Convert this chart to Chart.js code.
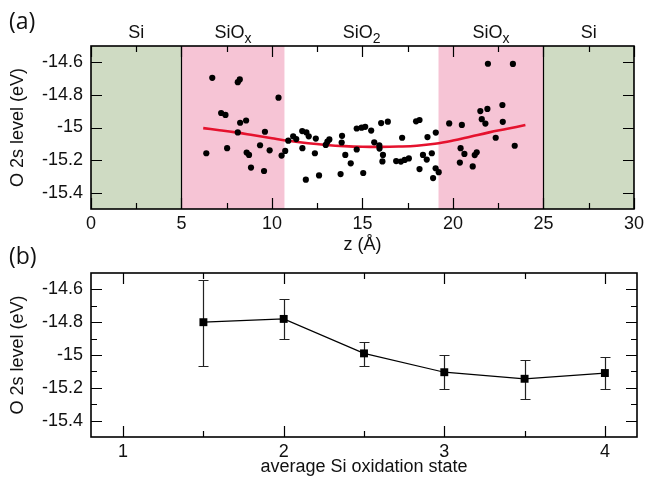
<!DOCTYPE html>
<html lang="en">
<head>
<meta charset="UTF-8">
<title>O 2s level across the Si/SiO2/Si stack</title>
<script src="https://cdn.jsdelivr.net/npm/chart.js"></script>
<style>
  body { margin: 0; background: #fff; }
  #wrap { position: relative; width: 648px; height: 481px; overflow: hidden; }
  #wrap canvas { position: absolute; left: 0; }
  #chartA { top: 0; }
  #chartB { top: 240px; }
  .tag { position: absolute; left: 9px; font: 23px "Open Sans", sans-serif; color: #111; }
</style>
</head>
<body>
<div id="wrap">
  <canvas id="chartA" width="648" height="262"></canvas>
  <canvas id="chartB" width="648" height="241"></canvas>
  <div class="tag" style="top:4px">(a)</div>
  <div class="tag" style="top:239px">(b)</div>
</div>

<script>
// ---- panel (a): O 2s level of every O atom vs. position z ----
const zPos = [
  6.70, 8.11, 8.22, 10.36, 7.19, 7.43, 8.24, 8.57, 8.11, 9.61, 10.90, 6.37, 7.52, 8.60, 8.73,
  9.34, 9.87, 10.53, 10.73, 8.84, 9.56,
  11.17, 11.34, 11.67, 11.90, 12.03, 11.68, 12.42, 12.37, 12.97, 13.06, 13.17, 13.87, 13.85,
  14.05, 14.35, 13.79, 11.87, 12.60, 14.68, 14.95, 15.15, 15.48, 14.68, 15.04, 15.65, 15.93,
  15.94, 16.13, 16.10, 16.03, 16.40, 17.19, 16.86, 17.12, 17.33, 17.56, 17.96, 18.15, 18.34,
  18.55, 18.59, 19.05, 18.83, 18.15, 19.04, 19.21, 18.90,
  19.79, 20.49, 20.42, 20.63, 20.38, 21.09, 21.20, 21.31, 21.51, 21.90, 21.59, 21.79, 22.73,
  22.75, 22.36, 23.41, 21.93, 23.31
];
const o2sLevel = [
  -14.695, -14.722, -14.705, -14.817, -14.911, -14.923, -14.971, -14.957, -15.030, -15.026,
  -15.081, -15.158, -15.127, -15.154, -15.168, -15.109, -15.140, -15.172, -15.144, -15.246,
  -15.267,
  -15.054, -15.071, -15.022, -15.030, -15.054, -15.127, -15.068, -15.158, -15.107, -15.087,
  -15.073, -15.051, -15.092, -15.168, -15.220, -15.286, -15.320, -15.294, -15.006, -15.001,
  -14.996, -15.019, -15.135, -15.279, -15.091, -15.110, -15.129, -15.168, -15.208, -14.973,
  -14.964, -15.063, -15.206, -15.209, -15.199, -15.190, -14.962, -14.954, -15.168, -15.197,
  -15.059, -15.031, -15.158, -15.255, -15.250, -15.274, -15.310,
  -14.975, -14.984, -15.127, -15.162, -15.215, -15.239, -15.169, -15.152, -14.899, -14.886,
  -14.949, -14.976, -14.862, -14.965, -15.063, -15.112, -14.609, -14.610
];
// smooth fit through the cloud
const fitZ = [6.2, 7, 8, 9, 10, 11, 12, 13, 14, 15, 16, 17, 18, 19, 20, 21, 22, 23, 24];
const fitLevel = [-15.004, -15.015, -15.030, -15.048, -15.066, -15.083, -15.097, -15.107,
  -15.114, -15.118, -15.119, -15.117, -15.112, -15.100, -15.080, -15.055, -15.030, -15.008, -14.985];

// layers of the stack
const regionEdges = [0, 5, 10.7, 19.2, 25, 30];
const regionNames = ['Si', 'SiO', 'SiO', 'SiO', 'Si'];
const regionSubs = ['', 'x', '2', 'x', ''];
const interfaceZ = [5, 25];

const zTicks = [0, 5, 10, 15, 20, 25, 30];
const zMinor = [2.5, 7.5, 12.5, 17.5, 22.5, 27.5];
const levelTicks = [-15.4, -15.2, -15, -14.8, -14.6];
const levelMinor = [-15.3, -15.1, -14.9, -14.7];

// ---- panel (b): averages per Si oxidation state ----
const oxState = [1.5, 2, 2.5, 3, 3.5, 4];
const o2sMean = [-14.80, -14.78, -14.99, -15.105, -15.145, -15.11];
const o2sTop = [-14.545, -14.66, -14.92, -15.00, -15.03, -15.015];
const o2sBottom = [-15.07, -14.90, -15.065, -15.21, -15.27, -15.205];
const oxTicks = [1, 2, 3, 4];
const oxMinor = [1.5, 2.5, 3.5];

const regionColors = ['#cfdbc3', '#f6c4d5', '#ffffff', '#f6c4d5', '#cfdbc3'];
const FONT = '"Liberation Sans", Arial, sans-serif';
const INK = '#111';

const fmt = v => String(+(+v).toFixed(1));

// inward tick marks on all four sides plus the box
const frameTicks = {
  id: 'frameTicks',
  afterDatasetsDraw(chart, args, o) {
    const {ctx, chartArea: a, scales: {x, y}} = chart;
    ctx.save();
    ctx.strokeStyle = '#000';
    ctx.lineWidth = 1.2;
    const vTicks = (vals, len) => vals.forEach(v => {
      const px = Math.round(x.getPixelForValue(v)) + 0.5;
      ctx.beginPath();
      ctx.moveTo(px, a.bottom); ctx.lineTo(px, a.bottom - len);
      ctx.moveTo(px, a.top); ctx.lineTo(px, a.top + len);
      ctx.stroke();
    });
    const hTicks = (vals, len) => vals.forEach(v => {
      const py = Math.round(y.getPixelForValue(v)) + 0.5;
      ctx.beginPath();
      ctx.moveTo(a.left, py); ctx.lineTo(a.left + len, py);
      ctx.moveTo(a.right, py); ctx.lineTo(a.right - len, py);
      ctx.stroke();
    });
    vTicks(o.xMajor, 11);
    vTicks(o.xMinor, 6);
    hTicks(o.yMajor, 11);
    hTicks(o.yMinor || [], 6);
    ctx.lineWidth = 1.6;
    ctx.strokeRect(a.left, a.top, a.right - a.left, a.bottom - a.top);
    ctx.restore();
  }
};

// coloured layers, interface lines and the layer names above the box
const layers = {
  id: 'layers',
  beforeDatasetsDraw(chart) {
    const {ctx, chartArea: a, scales: {x}} = chart;
    ctx.save();
    for (let i = 0; i < regionColors.length; i++) {
      const x0 = x.getPixelForValue(regionEdges[i]);
      const x1 = x.getPixelForValue(regionEdges[i + 1]);
      ctx.fillStyle = regionColors[i];
      ctx.fillRect(x0, a.top, x1 - x0, a.bottom - a.top);
    }
    ctx.strokeStyle = '#000';
    ctx.lineWidth = 1.2;
    interfaceZ.forEach(z => {
      const px = Math.round(x.getPixelForValue(z)) + 0.5;
      ctx.beginPath();
      ctx.moveTo(px, a.top); ctx.lineTo(px, a.bottom);
      ctx.stroke();
    });
    ctx.restore();
  },
  afterDraw(chart) {
    const {ctx, scales: {x}} = chart;
    ctx.save();
    ctx.fillStyle = INK;
    ctx.textBaseline = 'alphabetic';
    regionNames.forEach((name, i) => {
      const mid = x.getPixelForValue((regionEdges[i] + regionEdges[i + 1]) / 2);
      ctx.font = '18px ' + FONT;
      const w1 = ctx.measureText(name).width;
      ctx.font = '14px ' + FONT;
      const w2 = regionSubs[i] ? ctx.measureText(regionSubs[i]).width : 0;
      const x0 = mid - (w1 + w2) / 2;
      ctx.font = '18px ' + FONT;
      ctx.fillText(name, x0, 38);
      if (regionSubs[i]) {
        ctx.font = '14px ' + FONT;
        ctx.fillText(regionSubs[i], x0 + w1, 43);
      }
    });
    ctx.restore();
  }
};

// vertical error bars with caps
const errorBars = {
  id: 'errorBars',
  beforeDatasetsDraw(chart) {
    const {ctx, scales: {x, y}} = chart;
    ctx.save();
    ctx.strokeStyle = '#222';
    ctx.lineWidth = 1.2;
    oxState.forEach((s, i) => {
      const px = Math.round(x.getPixelForValue(s)) + 0.5;
      const top = Math.round(y.getPixelForValue(o2sTop[i])) + 0.5;
      const bot = Math.round(y.getPixelForValue(o2sBottom[i])) + 0.5;
      ctx.beginPath();
      ctx.moveTo(px, top); ctx.lineTo(px, bot);
      ctx.moveTo(px - 5, top); ctx.lineTo(px + 5, top);
      ctx.moveTo(px - 5, bot); ctx.lineTo(px + 5, bot);
      ctx.stroke();
    });
    ctx.restore();
  }
};

function axis(min, max, ticks, title, titlePad, tickPad, fitSize) {
  return {
    type: 'linear',
    min, max,
    afterBuildTicks: s => { s.ticks = ticks.map(v => ({value: v})); },
    afterFit: s => { if (s.isHorizontal()) s.height = fitSize; else s.width = fitSize; },
    grid: {display: false, drawTicks: false},
    border: {display: false},
    ticks: {color: INK, font: {size: 18, family: FONT}, padding: tickPad, callback: fmt, autoSkip: false, maxRotation: 0},
    title: {display: true, text: title, color: INK, font: {size: 18, family: FONT}, padding: titlePad}
  };
}

new Chart(document.getElementById('chartA'), {
  type: 'scatter',
  data: {
    datasets: [{
      data: zPos.map((z, i) => ({x: z, y: o2sLevel[i]})),
      pointRadius: 3.1,
      pointBackgroundColor: '#000',
      pointBorderWidth: 0
    }, {
      data: fitZ.map((z, i) => ({x: z, y: fitLevel[i]})),
      showLine: true,
      borderColor: '#e5122e',
      borderWidth: 2.6,
      pointRadius: 0,
      tension: 0.4
    }]
  },
  options: {
    responsive: false,
    animation: false,
    layout: {padding: {top: 46, right: 11, left: 0, bottom: 0}},
    plugins: {
      legend: {display: false},
      tooltip: {enabled: false},
      frameTicks: {xMajor: zTicks, xMinor: zMinor, yMajor: levelTicks}
    },
    scales: {
      x: axis(0, 30, zTicks, 'z (Å)', {top: 0, bottom: 6}, 4, 53),
      y: axis(-15.5, -14.5, levelTicks, 'O 2s level (eV)', {top: 7, bottom: 0}, 8, 91)
    }
  },
  plugins: [layers, frameTicks]
});

new Chart(document.getElementById('chartB'), {
  type: 'scatter',
  data: {
    datasets: [{
      data: oxState.map((s, i) => ({x: s, y: o2sMean[i]})),
      showLine: true,
      borderColor: '#000',
      borderWidth: 1.2,
      pointStyle: 'rect',
      pointRadius: 5.6,
      pointBackgroundColor: '#000',
      pointBorderColor: '#000',
      pointBorderWidth: 0
    }]
  },
  options: {
    responsive: false,
    animation: false,
    layout: {padding: {top: 33, right: 11, left: 0, bottom: 0}},
    plugins: {
      legend: {display: false},
      tooltip: {enabled: false},
      frameTicks: {xMajor: oxTicks, xMinor: oxMinor, yMajor: levelTicks, yMinor: levelMinor}
    },
    scales: {
      x: axis(0.8, 4.2, oxTicks, 'average Si oxidation state', {top: 0, bottom: 3}, 4, 44),
      y: axis(-15.5, -14.5, levelTicks, 'O 2s level (eV)', {top: 7, bottom: 0}, 8, 91)
    }
  },
  plugins: [errorBars, frameTicks]
});
</script>
</body>
</html>
